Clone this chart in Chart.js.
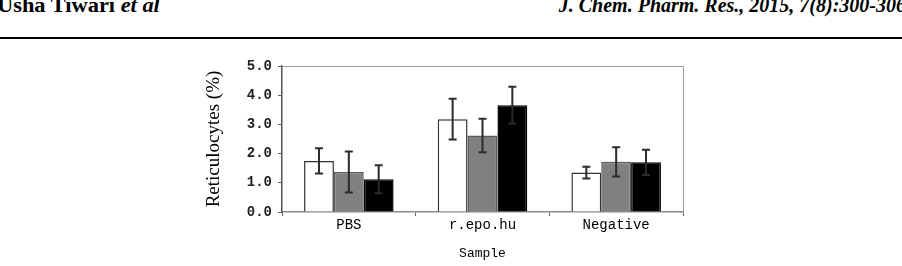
<!DOCTYPE html>
<html>
<head>
<meta charset="utf-8">
<script src="https://cdn.jsdelivr.net/npm/chart.js@4/dist/chart.umd.min.js"></script>
<style>
  html, body { margin: 0; padding: 0; background: #fff; }
  body { width: 902px; height: 266px; position: relative; overflow: hidden; }
  .hdr { position: absolute; top: -5px; font-family: "Liberation Serif", serif; font-weight: bold; font-size: 20px; line-height: 20px; color: #000; white-space: nowrap; }
  #hl { left: -3px; transform: scaleX(1.12); transform-origin: 0 0; }
  #hr { right: -4px; font-style: italic; }
  #rule { position: absolute; left: 0; top: 37px; width: 902px; height: 0; border-top: 2px solid #000; }
  #wrap { position: absolute; left: 0; top: 0; width: 902px; height: 266px; }
</style>
</head>
<body>
<div class="hdr" id="hl">Usha Tiwari <i>et al</i></div>
<div class="hdr" id="hr">J. Chem. Pharm. Res., 2015, 7(8):300-306</div>
<div id="rule"></div>
<div id="wrap"><canvas id="c"></canvas></div>
<script>
const categories = ['PBS', 'r.epo.hu', 'Negative'];
const yTickValues = [0, 1, 2, 3, 4, 5];
const seriesWhite = [1.75, 3.18, 1.35];
const errWhite    = [0.43, 0.70, 0.20];
const seriesGray  = [1.37, 2.62, 1.72];
const errGray     = [0.70, 0.57, 0.50];
const seriesBlack = [1.12, 3.66, 1.70];
const errBlack    = [0.48, 0.63, 0.43];
const errors = [errWhite, errGray, errBlack];

const errorBarPlugin = {
  id: 'errorBars',
  afterDatasetsDraw(chart) {
    const ctx = chart.ctx;
    const ys = chart.scales.y;
    ctx.save();
    ctx.strokeStyle = '#2b2b2b';
    ctx.lineWidth = 2;
    chart.data.datasets.forEach((ds, i) => {
      const meta = chart.getDatasetMeta(i);
      meta.data.forEach((el, j) => {
        const v = ds.data[j], e = errors[i][j];
        const yTop = ys.getPixelForValue(v + e);
        const yBot = ys.getPixelForValue(v - e);
        const x = el.x, cap = 4;
        ctx.beginPath();
        ctx.moveTo(x, yTop); ctx.lineTo(x, yBot);
        ctx.moveTo(x - cap, yTop); ctx.lineTo(x + cap, yTop);
        ctx.moveTo(x - cap, yBot); ctx.lineTo(x + cap, yBot);
        ctx.stroke();
      });
    });
    ctx.restore();
  }
};

const framePlugin = {
  id: 'frame',
  beforeDatasetsDraw(chart) {
    const a = chart.chartArea, ctx = chart.ctx;
    ctx.save();
    ctx.strokeStyle = '#9a9a9a';
    ctx.lineWidth = 1;
    ctx.beginPath();
    ctx.moveTo(a.left, a.top + 0.5); ctx.lineTo(a.right + 0.5, a.top + 0.5);
    ctx.lineTo(a.right + 0.5, a.bottom);
    ctx.stroke();
    ctx.restore();
  }
};

new Chart(document.getElementById('c'), {
  type: 'bar',
  data: {
    labels: categories,
    datasets: [
      { data: seriesWhite, backgroundColor: '#ffffff', borderColor: '#333333', borderWidth: 1.5 },
      { data: seriesGray,  backgroundColor: '#808080', borderColor: '#5a5a5a', borderWidth: 1.5 },
      { data: seriesBlack, backgroundColor: '#000000', borderColor: '#000000', borderWidth: 1.5 }
    ]
  },
  options: {
    responsive: true,
    maintainAspectRatio: false,
    animation: false,
    events: [],
    layout: { padding: { left: 200, right: 219, top: 66, bottom: 0 } },
    plugins: { legend: { display: false }, tooltip: { enabled: false } },
    datasets: { bar: { categoryPercentage: 0.67, barPercentage: 1.0 } },
    scales: {
      x: {
        offset: true,
        grid: { offset: true, drawOnChartArea: false, drawTicks: true, tickLength: 4, color: '#666' },
        border: { color: '#8a8a8a', width: 1.5 },
        ticks: { color: '#000', font: { family: 'Liberation Mono', size: 14 }, padding: 1, maxRotation: 0 },
        title: { display: true, text: 'Sample', color: '#000', font: { family: 'Liberation Mono', size: 13 }, padding: { top: 0, bottom: 5 } },
        afterFit(scale) { scale.height = 54; }
      },
      y: {
        min: 0, max: 5,
        afterBuildTicks(scale) {
          const t = [];
          yTickValues.forEach((v, i) => { t.push({ value: v }); if (i < yTickValues.length - 1) t.push({ value: v + 0.5 }); });
          scale.ticks = t;
        },
        grid: { drawOnChartArea: false, drawTicks: true, tickLength: 4, color: '#666' },
        border: { color: '#555', width: 1.5 },
        ticks: {
          color: '#222', padding: 6,
          font: { family: 'Liberation Mono', size: 14, weight: 'bold' },
          callback: (v) => (yTickValues.includes(v) ? v.toFixed(1) : '')
        },
        title: { display: true, text: 'Reticulocytes (%)', color: '#000', font: { family: 'Liberation Serif', size: 19 }, padding: { top: 3, bottom: 0 } },
        afterFit(scale) { scale.width = 82; }
      }
    }
  },
  plugins: [framePlugin, errorBarPlugin]
});
</script>
</body>
</html>
